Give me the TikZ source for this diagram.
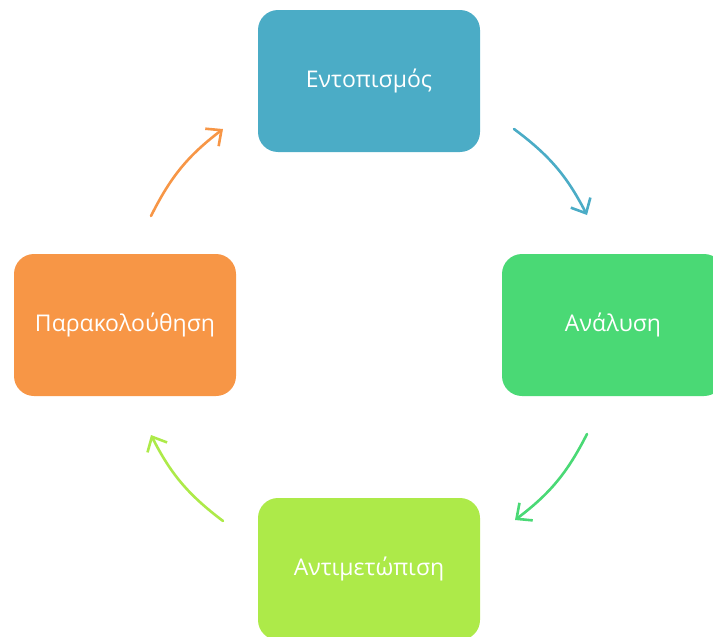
\documentclass[tikz,border=0pt]{standalone}
\usepackage{fontspec}
\setmainfont{Open Sans}
\usetikzlibrary{arrows.meta}
\definecolor{cblue}{RGB}{75,172,198}
\definecolor{cgreen}{RGB}{74,217,117}
\definecolor{clime}{RGB}{173,234,73}
\definecolor{corange}{RGB}{247,150,70}
\tikzset{
  box/.style={rounded corners=20pt, minimum width=222pt, minimum height=142pt, inner sep=0pt, text=white, font=\fontsize{23}{27}\selectfont},
  cyc/.style={line width=2.6pt, line cap=round, -{Straight Barb[length=12pt,width=22pt,line width=2.6pt]}},
}
\begin{document}
\begin{tikzpicture}[x=1pt,y=-1pt]
\useasboundingbox (0,0) rectangle (713,637);
\node[box, fill=cblue] (top) at (369,81) {Εντοπισμός};
\node[box, fill=cgreen] (right) at (613,325) {Ανάλυση};
\node[box, fill=clime] (bottom) at (369,569) {Αντιμετώπιση};
\node[box, fill=corange] (left) at (125,325) {Παρακολούθηση};
\coordinate (a1s) at (514,129);
\coordinate (a1e) at (587,215);
\coordinate (a2s) at (587,434);
\coordinate (a2e) at (515,520);
\coordinate (a3s) at (223,521);
\coordinate (a3e) at (151,435);
\coordinate (a4s) at (151,216);
\coordinate (a4e) at (223,129);
\draw[cyc, cblue] (a1s) to[bend left=13] (a1e);
\draw[cyc, cgreen] (a2s) to[bend left=13] (a2e);
\draw[cyc, clime] (a3s) to[bend left=13] (a3e);
\draw[cyc, corange] (a4s) to[bend left=13] (a4e);
\end{tikzpicture}
\end{document}
